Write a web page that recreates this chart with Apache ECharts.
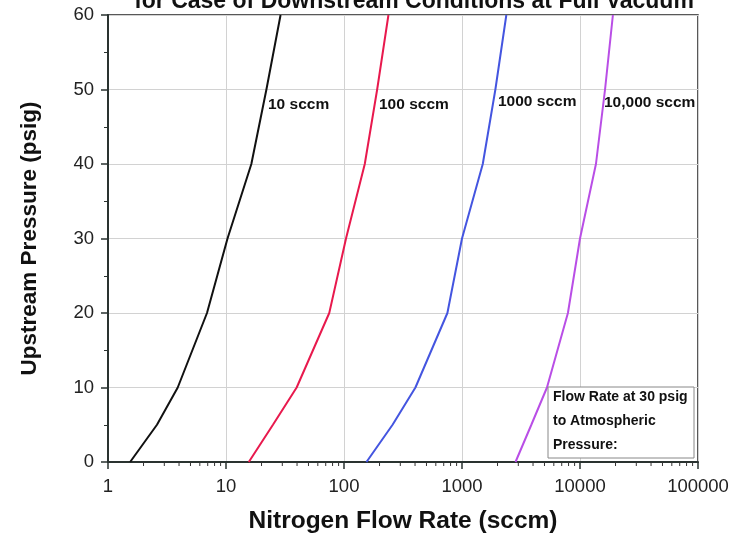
<!DOCTYPE html>
<html>
<head>
<meta charset="utf-8">
<script src="https://cdn.jsdelivr.net/npm/echarts@6/dist/echarts.min.js"></script>
<style>html,body{margin:0;padding:0;background:#fff}#c{width:748px;height:538px}</style>
</head>
<body>
<div id="c"></div>
<script>
// Upstream pressure (psig) at which each flow rate was read
const pressure = [0, 5, 10, 20, 30, 40, 50, 60];
// Nitrogen flow rate (sccm) for each orifice curve
const flow10 = [1.54, 2.6, 3.9, 6.9, 10.3, 16.4, 22, 29];
const flow100 = [15.6, 25, 39.7, 75, 104, 150, 191, 238];
const flow1000 = [155, 258, 403, 752, 1000, 1500, 1918, 2375];
const flow10000 = [2840, 3870, 5250, 7900, 10000, 13650, 16300, 19000];
const curveNames = ['10 sccm', '100 sccm', '1000 sccm', '10,000 sccm'];
const xTicks = [1, 10, 100, 1000, 10000, 100000];
const yTicks = [0, 10, 20, 30, 40, 50, 60];
const titleText = 'for Case of Downstream Conditions at Full Vacuum';
const boxLines = ['Flow Rate at 30 psig', 'to Atmospheric', 'Pressure:'];

const FONT = '"Liberation Sans", Arial, sans-serif';
const colors = ['#111111', '#e8194d', '#4455e0', '#b94ee6'];
const flows = [flow10, flow100, flow1000, flow10000];

const minorX = [];
for (let i = 0; i < xTicks.length - 1; i++) {
  for (let m = 2; m <= 9; m++) minorX.push([xTicks[i] * m, 0]);
}

const series = flows.map((f, i) => ({
  type: 'line',
  name: curveNames[i],
  data: f.map((v, k) => [v, pressure[k]]),
  showSymbol: false,
  lineStyle: { color: colors[i], width: 2 },
  itemStyle: { color: colors[i] },
  silent: true,
  z: 3
}));

series.push({
  type: 'custom',
  data: minorX,
  silent: true,
  clip: false,
  renderItem: function (params, api) {
    const p = api.coord([api.value(0), 0]);
    return { type: 'line', shape: { x1: p[0], y1: p[1], x2: p[0], y2: p[1] + 4 },
      style: { stroke: '#333', lineWidth: 1 } };
  },
  z: 4
});

const labelPos = [[268, 105], [379, 105], [498, 102], [604, 103]];
const graphics = [
  { type: 'text', x: 414, y: -10,
    style: { text: titleText, font: 'bold 23px ' + FONT, fill: '#111', textAlign: 'center' } }
];
curveNames.forEach((n, i) => {
  graphics.push({ type: 'text', x: labelPos[i][0], y: labelPos[i][1],
    style: { text: n, font: 'bold 15.5px ' + FONT, fill: '#111', textVerticalAlign: 'middle' }, z: 10 });
});
graphics.push({ type: 'rect', shape: { x: 548, y: 387, width: 146, height: 71 },
  style: { fill: '#fff', stroke: '#888', lineWidth: 1 }, z: 9 });
boxLines.forEach((t, i) => {
  graphics.push({ type: 'text', x: 553, y: 397 + i * 24,
    style: { text: t, font: 'bold 14px ' + FONT, fill: '#111', textVerticalAlign: 'middle' }, z: 10 });
});

const chart = echarts.init(document.getElementById('c'));
chart.setOption({
  animation: false,
  backgroundColor: '#fff',
  grid: { left: 108, right: 50, top: 15, bottom: 76, show: true, borderColor: '#222', borderWidth: 1.5,
    outerBoundsMode: 'none', containLabel: false },
  xAxis: {
    type: 'log', logBase: 10, min: xTicks[0], max: xTicks[xTicks.length - 1],
    name: 'Nitrogen Flow Rate (sccm)', nameLocation: 'middle', nameGap: 47,
    nameTextStyle: { fontFamily: FONT, fontWeight: 'bold', fontSize: 24.5, color: '#111' },
    axisLine: { lineStyle: { color: '#2a3330', width: 2 } },
    axisTick: { show: true, length: 7, lineStyle: { color: '#2a3330', width: 1.5 } },
    axisLabel: { fontFamily: FONT, fontSize: 18.5, color: '#222', margin: 15,
      formatter: v => String(Math.round(v)) },
    splitLine: { show: true, lineStyle: { color: '#d2d2d2', width: 1 } }
  },
  yAxis: {
    type: 'value', min: yTicks[0], max: yTicks[yTicks.length - 1], interval: 10,
    name: 'Upstream Pressure (psig)', nameLocation: 'middle', nameGap: 67, nameRotate: 90,
    nameTextStyle: { fontFamily: FONT, fontWeight: 'bold', fontSize: 22.5, color: '#111' },
    axisLine: { show: true, lineStyle: { color: '#2a3330', width: 2 } },
    axisTick: { show: true, length: 7, lineStyle: { color: '#2a3330', width: 1.5 } },
    minorTick: { show: true, splitNumber: 2, length: 4, lineStyle: { color: '#2a3330', width: 1 } },
    axisLabel: { fontFamily: FONT, fontSize: 18.5, color: '#222', margin: 14 },
    splitLine: { show: true, lineStyle: { color: '#d2d2d2', width: 1 } }
  },
  series: series,
  graphic: graphics
});
</script>
</body>
</html>
